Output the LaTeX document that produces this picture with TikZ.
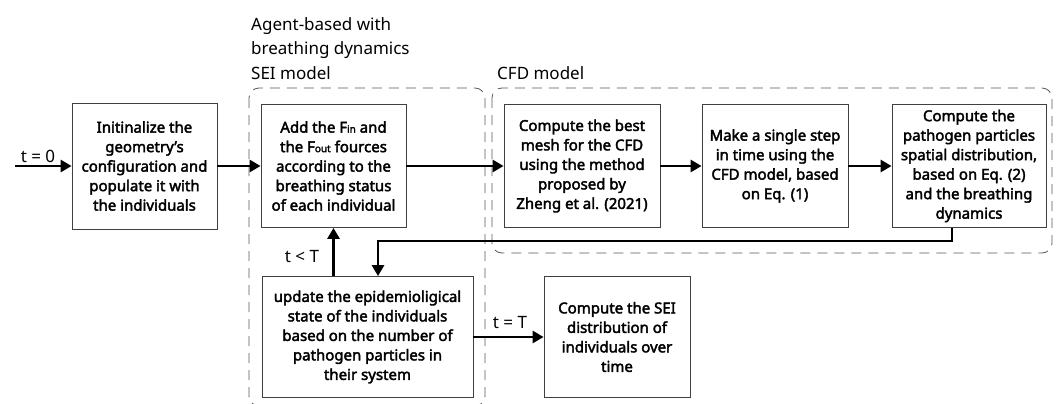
\documentclass[tikz,border=0pt]{standalone}
\usepackage{fontspec}
\setmainfont{Noto Sans}
\newfontfamily\boxfont[FakeBold=2.5]{Noto Sans}
\usetikzlibrary{arrows.meta}
\newcommand{\sm}[1]{{\fontsize{10}{10}\selectfont #1}}
\begin{document}
\begin{tikzpicture}[x=1pt,y=-1pt,
  box/.style={draw=black!75,line width=0.8pt,inner sep=0pt,align=center,
    font=\boxfont\fontsize{15}{19.5}\selectfont},
  arr/.style={line width=2.9pt,-{Triangle[length=11pt,width=12pt]}},
  region/.style={draw=black!65,line width=0.8pt,dash pattern=on 10pt off 7pt,rounded corners=10pt},
  lbl/.style={inner sep=0pt,font=\fontsize{17}{24.5}\selectfont},
  cond/.style={inner sep=0pt,font=\fontsize{17}{20}\selectfont}]
\useasboundingbox (0,0) rectangle (1057,404);
\clip (0,0) rectangle (1057,404);
% regions
\draw[region] (249,88) rectangle (485,406);
\draw[region] (492,88) rectangle (1052,253);
\node[lbl,anchor=north west,align=left] (lA) at (251,17) {Agent-based with\\breathing dynamics\\SEI model};
\node[lbl,anchor=north west] (lC) at (497,66) {CFD model};
% boxes
\node[box,minimum width=145pt,minimum height=126pt] (b1) at (144.5,166)
  {Initinalize the\\geometry’s\\configuration and\\populate it with\\the individuals};
\node[box,minimum width=145pt,minimum height=123pt] (b2) at (333.5,166)
  {Add the F\sm{in} and\\the F\sm{out} fources\\according to the\\breathing status\\of each individual};
\node[box,minimum width=156pt,minimum height=123pt] (b3) at (582,166)
  {Compute the best\\mesh for the CFD\\using the method\\proposed by\\Zheng et al. (2021)};
\node[box,minimum width=146pt,minimum height=123pt] (b4) at (775,166)
  {Make a single step\\in time using the\\CFD model, based\\on Eq. (1)};
\node[box,minimum width=154pt,minimum height=123pt] (b5) at (969,166)
  {Compute the\\pathogen particles\\spatial distribution,\\based on Eq. (2)\\and the breathing\\dynamics};
\node[box,minimum width=211pt,minimum height=121pt] (b6) at (367.5,337)
  {update the epidemioligical\\state of the individuals\\based on the number of\\pathogen particles in\\their system};
\node[box,minimum width=146pt,minimum height=121pt] (b7) at (617,337)
  {Compute the SEI\\distribution of\\individuals over\\time};
% connectors
\coordinate (s) at (15,166);
\draw[arr] (s) -- (b1.west);
\draw[arr] (b1.east) -- (b2.west);
\draw[arr] (b2.east) -- (b3.west);
\draw[arr] (b3.east) -- (b4.west);
\draw[arr] (b4.east) -- (b5.west);
\coordinate (c1) at (952,241);
\coordinate (c2) at (378,241);
\draw[arr] (b5.south -| c1) -- (c1) -- (c2) -- (c2 |- b6.north);
\draw[arr] (b6.north -| b2.south) -- (b2.south);
\draw[arr] (b6.east) -- (b7.west);
% condition labels
\node[cond,anchor=base] (t0) at (38,162) {t = 0};
\node[cond,anchor=base] (tl) at (302,262) {t < T};
\node[cond,anchor=base] (te) at (510,328) {t = T};
\end{tikzpicture}
\end{document}
